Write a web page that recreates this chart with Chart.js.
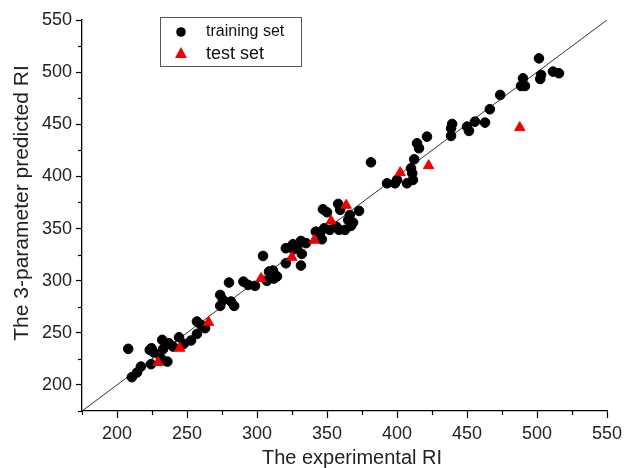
<!DOCTYPE html>
<html>
<head>
<meta charset="utf-8">
<script src="https://cdn.jsdelivr.net/npm/chart.js@4/dist/chart.umd.min.js"></script>
<style>
html,body{margin:0;padding:0;background:#fff;}
#wrap{width:628px;height:468px;position:relative;}
</style>
</head>
<body>
<div id="wrap"><canvas id="c" width="628" height="468"></canvas></div>
<script>
// Training set: experimental RI (x) vs 3-parameter predicted RI (y)
const trainX = [208,210.6,214.3,217.1,224.3,223.4,224.6,226.3,232.3,232.9,231.4,236,237.1,240,244.3,247.7,252.9,257.1,257.1,260,262.9,
  273.7,273.7,275.7,280,281.4,283.7,290.3,293.7,298.6,304.3,307.1,308.6,311.4,314.3,320.6,320.6,325.7,328.6,331.4,331.4,332,
  345.1,346.3,348,347.1,350,352,356.6,358,359.4,358.6,362.9,365.1,366.3,367.1,368.6,372.9,381.4,392.9,398.6,400,407.1,410,410.9,
  411.4,412.3,414.3,415.7,421.4,438.6,438.6,439.4,450,451.4,455.7,462.9,466.3,473.7,488.6,490,491.4,501.4,502.3,502.9,511.4,515.7,
  326,335,312,342];
const trainY = [234.6,207.4,211.9,217.6,219.9,233.6,235.2,231.1,243.2,234.3,225.6,222.4,240,236.8,245.7,239.4,242.6,248.9,260.8,257.6,254.4,
  286.3,275.8,281.5,298.2,280,275.8,299.1,295.9,295,323.7,299.8,308.7,309.7,304.1,316.7,331.1,334.9,331.1,338.1,314.5,325.6,
  345.5,339.7,350.3,368.5,365.6,348.7,351.8,373.6,367.9,348.7,348.7,358.2,363,352.5,355.7,366.9,413.5,393.4,393.4,396.6,393.4,407.8,403,
  396.6,416.4,431.8,427,438.1,438.8,446.1,450.3,447.7,443.6,452.5,451.6,464.4,478.1,486.7,494.1,486.7,513.2,493.4,497.3,500.5,498.9,
  330,336,302,347];
// Test set
const testX = [229.4,244.9,265.4,302.9,324.9,340.9,352.9,363.7,402.3,422.6,487.7];
const testY = [221.5,235.2,260.1,302,322.4,338.8,357.3,372.3,403.6,410.3,446.8];
// y = x reference line ends and axis ticks
const lineEnds = [175,550];
const axisMin = 175, axisMax = 550, tickStep = 25;
const seriesNames = ['training set','test set'];
const xTitle = 'The experimental RI';
const yTitle = 'The 3-parameter predicted RI';

const FONT = '"Liberation Sans", Arial, sans-serif';
const RED = '#ee0000';
const toPts = (xs, ys) => xs.map((x, i) => ({x: x, y: ys[i]}));
const isMajor = v => v % 50 === 0;

const decorPlugin = {
  id: 'decor',
  afterDraw(chart) {
    const ctx = chart.ctx;
    const xs = chart.scales.x, ys = chart.scales.y;
    const ca = chart.chartArea;
    ctx.save();
    // minor ticks (shorter)
    ctx.strokeStyle = '#000';
    ctx.lineWidth = 1.2;
    for (let v = axisMin; v <= axisMax; v += tickStep) {
      if (isMajor(v)) continue;
      const px = Math.round(xs.getPixelForValue(v)) + 0.5;
      ctx.beginPath(); ctx.moveTo(px, ca.bottom); ctx.lineTo(px, ca.bottom + 4); ctx.stroke();
      const py = Math.round(ys.getPixelForValue(v)) + 0.5;
      ctx.beginPath(); ctx.moveTo(ca.left, py); ctx.lineTo(ca.left - 4, py); ctx.stroke();
    }
    // axis titles
    ctx.fillStyle = '#222';
    ctx.font = '20px ' + FONT;
    ctx.textAlign = 'center';
    ctx.textBaseline = 'middle';
    ctx.fillText(xTitle, 352, 458);
    ctx.save();
    ctx.translate(22, 203);
    ctx.rotate(-Math.PI / 2);
    ctx.font = '21px ' + FONT;
    ctx.fillText(yTitle, 0, 0);
    ctx.restore();
    // legend box
    ctx.strokeStyle = '#555';
    ctx.lineWidth = 1;
    ctx.strokeRect(160.5, 17.5, 141, 49);
    ctx.fillStyle = '#000';
    ctx.beginPath(); ctx.arc(181, 32, 4.8, 0, Math.PI*2); ctx.fill();
    ctx.fillStyle = RED;
    ctx.beginPath(); ctx.moveTo(181, 47); ctx.lineTo(187, 58); ctx.lineTo(175, 58); ctx.closePath(); ctx.fill();
    ctx.fillStyle = '#111';
    ctx.textAlign = 'left';
    ctx.font = '16px ' + FONT;
    ctx.fillText(seriesNames[0], 206, 32);
    ctx.font = '18px ' + FONT;
    ctx.fillText(seriesNames[1], 206, 54);
    ctx.restore();
  }
};

const tickCb = v => (isMajor(v) ? String(v) : '');
const tickColor = c => (c.tick && isMajor(c.tick.value) ? '#000' : 'rgba(0,0,0,0)');

new Chart(document.getElementById('c'), {
  type: 'scatter',
  data: {
    datasets: [
      {label: 'y=x', type: 'line', data: toPts(lineEnds, lineEnds), borderColor: '#333', borderWidth: 1, pointRadius: 0, fill: false, order: 3},
      {label: seriesNames[0], data: toPts(trainX, trainY), backgroundColor: '#000', borderColor: '#000', pointRadius: 4.8, pointStyle: 'circle', order: 2},
      {label: seriesNames[1], data: toPts(testX, testY), backgroundColor: RED, borderColor: RED, pointRadius: 6, pointStyle: 'triangle', order: 1}
    ]
  },
  options: {
    responsive: false,
    animation: false,
    layout: {padding: {top: 20, right: 21, left: 0, bottom: 0}},
    plugins: {legend: {display: false}, tooltip: {enabled: false}},
    scales: {
      x: {
        type: 'linear', min: axisMin, max: axisMax,
        afterFit(s) { s.height = 57; },
        border: {display: true, color: '#000', width: 1.3},
        grid: {drawOnChartArea: false, drawTicks: true, tickLength: 7, tickColor: tickColor, tickWidth: 1.2},
        ticks: {stepSize: tickStep, callback: tickCb, color: '#222', padding: 5, maxRotation: 0, autoSkip: false,
                font: {family: FONT, size: 18}},
        title: {display: false}
      },
      y: {
        type: 'linear', min: axisMin, max: axisMax,
        afterFit(s) { s.width = 82; },
        border: {display: true, color: '#000', width: 1.3},
        grid: {drawOnChartArea: false, drawTicks: true, tickLength: 6, tickColor: tickColor, tickWidth: 1.2},
        ticks: {stepSize: tickStep, callback: tickCb, color: '#222', padding: 4, autoSkip: false,
                font: {family: FONT, size: 18}},
        title: {display: false}
      }
    }
  },
  plugins: [decorPlugin]
});
</script>
</body>
</html>
